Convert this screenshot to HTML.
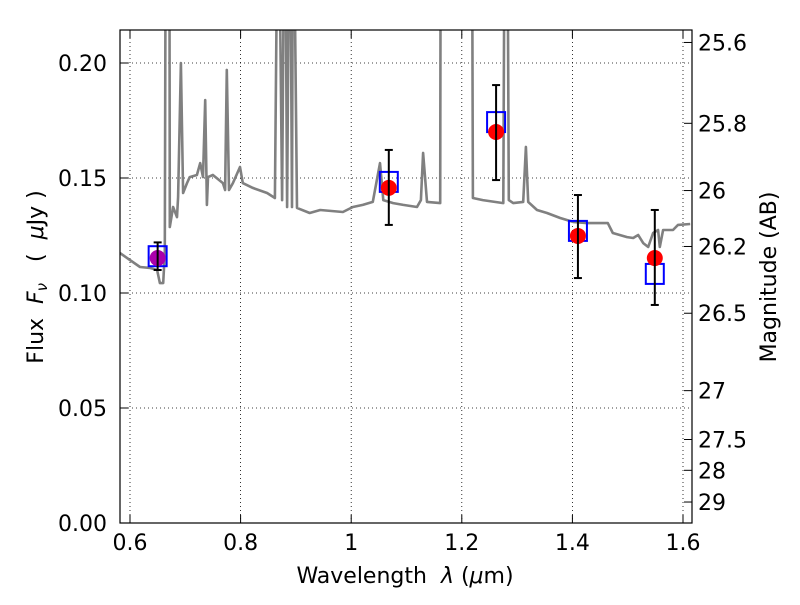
<!DOCTYPE html>
<html><head><meta charset="utf-8"><style>
body{margin:0;background:#fff;}
svg text{font-family:"DejaVu Sans","Liberation Sans",sans-serif;font-size:22px;fill:#000;}
</style></head><body>
<svg id="chart" width="800" height="600" xmlns="http://www.w3.org/2000/svg">
<defs><clipPath id="clip"><rect x="120" y="30" width="572" height="493"/></clipPath></defs>
<g id="grid"></g>
<g id="series" clip-path="url(#clip)"></g>
<rect x="120" y="30" width="572" height="493" fill="none" stroke="#000" stroke-width="1.2"/>
<g id="axes"></g>
<text x="405" y="583" text-anchor="middle">Wavelength&#160;&#160;<tspan font-style="italic">λ</tspan>&#160;(<tspan font-style="italic">μ</tspan>m)</text>
<text transform="translate(43,277) rotate(-90)" text-anchor="middle">Flux&#160;&#160;<tspan font-style="italic">F<tspan font-size="15" dy="4">ν</tspan></tspan><tspan dy="-4">&#160;&#160;&#160;(&#160;&#160;</tspan><tspan font-style="italic">μ</tspan>Jy&#160;)</text>
<text transform="translate(776,277) rotate(-90)" text-anchor="middle">Magnitude (AB)</text>
</svg>
<script>
const specLam=[0.582,0.600,0.618,0.636,0.649,0.654,0.660,0.663,0.665,0.671,0.672,0.678,0.685,0.687,0.692,0.696,0.703,0.708,0.721,0.727,0.732,0.736,0.739,0.741,0.750,0.768,0.772,0.775,0.779,0.786,0.799,0.804,0.822,0.848,0.862,0.868,0.875,0.880,0.884,0.889,0.893,0.895,0.902,0.925,0.944,0.985,1.003,1.021,1.039,1.052,1.058,1.076,1.094,1.119,1.126,1.130,1.137,1.161,1.162,1.218,1.220,1.238,1.275,1.278,1.282,1.285,1.293,1.311,1.316,1.320,1.336,1.354,1.378,1.401,1.426,1.450,1.464,1.473,1.499,1.510,1.519,1.528,1.537,1.546,1.555,1.558,1.564,1.582,1.591,1.613];
const specFlux=[0.1174,0.1143,0.1113,0.1109,0.1100,0.1043,0.1043,0.1174,0.30,0.30,0.1287,0.1374,0.1330,0.1417,0.2000,0.1435,0.1478,0.1504,0.1513,0.1565,0.1504,0.1839,0.1383,0.1504,0.1513,0.1478,0.1448,0.1970,0.1448,0.1478,0.1548,0.1478,0.1457,0.1435,0.1413,0.30,0.1404,0.30,0.1374,0.30,0.1374,0.30,0.1370,0.1348,0.1361,0.1352,0.1374,0.1383,0.1396,0.1565,0.1404,0.1391,0.1383,0.1374,0.1404,0.1609,0.1396,0.1391,0.30,0.30,0.1413,0.1404,0.1391,0.30,0.30,0.1404,0.1391,0.1396,0.1635,0.1396,0.1361,0.1348,0.1326,0.1309,0.1304,0.1304,0.1304,0.1261,0.1243,0.1239,0.1252,0.1217,0.1200,0.1261,0.1274,0.1200,0.1274,0.1274,0.1296,0.1300];
const photLam=[0.650,1.068,1.262,1.410,1.549];
const obsFlux=[0.1152,0.1457,0.170,0.1248,0.1152];
const obsLo=[0.110,0.1296,0.1491,0.1065,0.0948];
const obsHi=[0.122,0.1622,0.1904,0.1426,0.1361];
const modelFlux=[0.116,0.1483,0.1743,0.127,0.1083];
const xTicks=[0.6,0.8,1.0,1.2,1.4,1.6];
const xTickLabels=["0.6","0.8","1","1.2","1.4","1.6"];
const yTicks=[0,0.05,0.10,0.15,0.20];
const yTickLabels=["0.00","0.05","0.10","0.15","0.20"];
const magTicks=[25.6,25.8,26,26.2,26.5,27,27.5,28,29];
const magTickLabels=["25.6","25.8","26","26.2","26.5","27","27.5","28","29"];

const X=l=>130+(l-0.6)/0.2*110.6;
const Y=f=>523-f*2300;
const NS="http://www.w3.org/2000/svg";
function mk(p,t,a){const e=document.createElementNS(NS,t);for(const k in a)e.setAttribute(k,a[k]);p.appendChild(e);return e;}
const grid=document.getElementById('grid'),ser=document.getElementById('series'),axes=document.getElementById('axes');
xTicks.forEach((t,i)=>{const x=X(t);
 const g=mk(grid,'line',{x1:x,x2:x,y1:30,y2:523,stroke:'#000','stroke-width':0.8,'stroke-dasharray':'1,3'});
 
 
 mk(axes,'line',{x1:x,x2:x,y1:523,y2:515,stroke:'#000'});
 mk(axes,'line',{x1:x,x2:x,y1:30,y2:38,stroke:'#000'});
 const tx=mk(axes,'text',{x:x,y:550,'text-anchor':'middle'});tx.textContent=xTickLabels[i];
 
 
});
yTicks.forEach((t,i)=>{const y=Y(t);
 const g=mk(grid,'line',{x1:120,x2:692,y1:y,y2:y,stroke:'#000','stroke-width':0.8,'stroke-dasharray':'1,3'});
 
 
 mk(axes,'line',{x1:120,x2:128,y1:y,y2:y,stroke:'#000'});
 const tx=mk(axes,'text',{x:107,y:y+8,'text-anchor':'end'});tx.textContent=yTickLabels[i];
 
 
});
magTicks.forEach((m,i)=>{const y=Y(Math.pow(10,(23.9-m)/2.5));
 mk(axes,'line',{x1:684,x2:692,y1:y,y2:y,stroke:'#000'});
 const tx=mk(axes,'text',{x:698,y:y+8});tx.textContent=magTickLabels[i];
 
 
});
const pts=specLam.map((l,i)=>X(l).toFixed(1)+','+Y(specFlux[i]).toFixed(1)).join(' ');
const sp=mk(ser,'polyline',{points:pts,fill:'none',stroke:'#808080','stroke-width':2.6,'stroke-linejoin':'round'});


photLam.forEach((l,i)=>{const x=X(l);
 const b=mk(ser,'rect',{x:x-9,y:Y(modelFlux[i])-10,width:18,height:20,fill:'none',stroke:'#0000ff','stroke-width':2});
 
 
 const c=mk(ser,'circle',{cx:x,cy:Y(obsFlux[i]),r:8,fill:i==0?'#aa00aa':'#ff0000'});
 
 
 const e=mk(ser,'g',{stroke:'#000','stroke-width':2});
 
 
 mk(e,'line',{x1:x,x2:x,y1:Y(obsLo[i]),y2:Y(obsHi[i])});
 mk(e,'line',{x1:x-4,x2:x+4,y1:Y(obsLo[i]),y2:Y(obsLo[i])});
 mk(e,'line',{x1:x-4,x2:x+4,y1:Y(obsHi[i]),y2:Y(obsHi[i])});
});
</script>
</body></html>
